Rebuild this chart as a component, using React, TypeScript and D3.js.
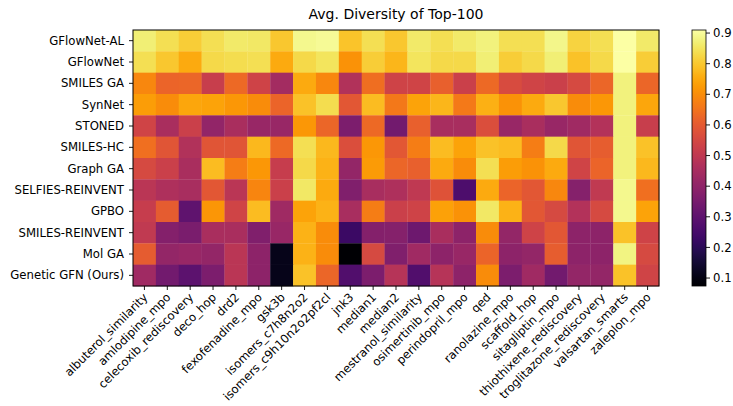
import React from "react";
import * as d3 from "d3";

const methods = [
  "GFlowNet-AL",
  "GFlowNet",
  "SMILES GA",
  "SynNet",
  "STONED",
  "SMILES-HC",
  "Graph GA",
  "SELFIES-REINVENT",
  "GPBO",
  "SMILES-REINVENT",
  "Mol GA",
  "Genetic GFN (Ours)",
];

const tasks = [
  "albuterol_similarity",
  "amlodipine_mpo",
  "celecoxib_rediscovery",
  "deco_hop",
  "drd2",
  "fexofenadine_mpo",
  "gsk3b",
  "isomers_c7h8n2o2",
  "isomers_c9h10n2o2pf2cl",
  "jnk3",
  "median1",
  "median2",
  "mestranol_similarity",
  "osimertinib_mpo",
  "perindopril_mpo",
  "qed",
  "ranolazine_mpo",
  "scaffold_hop",
  "sitagliptin_mpo",
  "thiothixene_rediscovery",
  "troglitazone_rediscovery",
  "valsartan_smarts",
  "zaleplon_mpo",
];

const gflownetAL = [0.87, 0.84, 0.81, 0.84, 0.86, 0.855, 0.8, 0.89, 0.895, 0.795, 0.84, 0.8, 0.86, 0.84, 0.86, 0.875, 0.84, 0.84, 0.885, 0.82, 0.84, 0.91, 0.86];
const gflownet = [0.84, 0.8, 0.75, 0.83, 0.835, 0.84, 0.75, 0.83, 0.85, 0.71, 0.81, 0.77, 0.85, 0.83, 0.83, 0.87, 0.81, 0.83, 0.87, 0.79, 0.83, 0.91, 0.81];
const smilesGA = [0.69, 0.62, 0.625, 0.52, 0.63, 0.535, 0.44, 0.75, 0.69, 0.47, 0.64, 0.535, 0.54, 0.61, 0.525, 0.63, 0.56, 0.54, 0.525, 0.555, 0.625, 0.875, 0.625];
const synNet = [0.73, 0.7, 0.745, 0.74, 0.72, 0.7, 0.62, 0.79, 0.835, 0.59, 0.78, 0.66, 0.74, 0.77, 0.665, 0.76, 0.71, 0.75, 0.8, 0.7, 0.72, 0.875, 0.745];
const stoned = [0.54, 0.455, 0.525, 0.405, 0.455, 0.42, 0.42, 0.72, 0.625, 0.36, 0.63, 0.34, 0.61, 0.45, 0.45, 0.57, 0.42, 0.455, 0.42, 0.435, 0.475, 0.875, 0.52];
const smilesHC = [0.645, 0.585, 0.47, 0.585, 0.585, 0.775, 0.63, 0.84, 0.775, 0.57, 0.72, 0.59, 0.67, 0.78, 0.74, 0.79, 0.78, 0.67, 0.83, 0.585, 0.605, 0.875, 0.79];
const graphGA = [0.555, 0.525, 0.455, 0.78, 0.67, 0.72, 0.515, 0.83, 0.765, 0.41, 0.725, 0.625, 0.61, 0.75, 0.7, 0.84, 0.73, 0.71, 0.75, 0.54, 0.62, 0.875, 0.775];
const selfiesReinvent = [0.49, 0.465, 0.45, 0.59, 0.49, 0.685, 0.525, 0.855, 0.75, 0.37, 0.45, 0.465, 0.5, 0.58, 0.265, 0.75, 0.62, 0.59, 0.69, 0.38, 0.505, 0.89, 0.645];
const gpbo = [0.515, 0.6, 0.3, 0.715, 0.54, 0.78, 0.43, 0.74, 0.765, 0.45, 0.67, 0.525, 0.535, 0.735, 0.71, 0.855, 0.765, 0.59, 0.555, 0.475, 0.555, 0.89, 0.74];
const smilesReinvent = [0.505, 0.375, 0.355, 0.455, 0.455, 0.37, 0.42, 0.765, 0.7, 0.23, 0.375, 0.38, 0.33, 0.455, 0.395, 0.7, 0.41, 0.535, 0.59, 0.395, 0.395, 0.79, 0.535];
const molGA = [0.6, 0.41, 0.42, 0.41, 0.49, 0.395, 0.11, 0.765, 0.7, 0.074, 0.555, 0.37, 0.435, 0.395, 0.42, 0.62, 0.395, 0.41, 0.605, 0.395, 0.395, 0.88, 0.555];
const geneticGFN = [0.435, 0.34, 0.295, 0.36, 0.49, 0.395, 0.11, 0.79, 0.625, 0.27, 0.36, 0.48, 0.27, 0.48, 0.395, 0.7, 0.36, 0.435, 0.34, 0.41, 0.41, 0.79, 0.54];

const rows = [gflownetAL, gflownet, smilesGA, synNet, stoned, smilesHC, graphGA, selfiesReinvent, gpbo, smilesReinvent, molGA, geneticGFN];

const colorbarTicks = [0.1, 0.2, 0.3, 0.4, 0.5, 0.6, 0.7, 0.8, 0.9];

const W = 733;
const H = 406;
const M = { left: 133, right: 659, top: 30, bottom: 286 };
const FONT = "DejaVu Sans, sans-serif";
const FS = 11.7;

export default function App() {
  const cells = rows.flatMap((r, i) => r.map((v, j) => ({ i, j, v })));
  const all = cells.map((c) => c.v);
  const [vmin, vmax] = d3.extent(all) as [number, number];

  const x = d3.scaleBand<string>().domain(tasks).range([M.left, M.right]);
  const y = d3.scaleBand<string>().domain(methods).range([M.top, M.bottom]);
  const color = d3.scaleSequential(d3.interpolateInferno).domain([vmin, vmax]);

  const cb = { x0: 692, x1: 706 };
  const cy = d3.scaleLinear().domain([vmin, vmax]).range([M.bottom, M.top]);
  const stops = d3.range(0, 1.0001, 0.02);

  return (
    <svg width={W} height={H} style={{ position: "absolute", left: 0, top: 0, background: "#fff" }} fontFamily={FONT}>
      <defs>
        <linearGradient id="cbgrad" x1="0" y1="1" x2="0" y2="0">
          {stops.map((t) => (
            <stop key={t} offset={t} stopColor={d3.interpolateInferno(t)} />
          ))}
        </linearGradient>
      </defs>
      <text x={(M.left + M.right) / 2} y={19} textAnchor="middle" fontSize={14} fill="#000">
        Avg. Diversity of Top-100
      </text>
      <g>
        {cells.map((c) => (
          <rect
            key={`${c.i}-${c.j}`}
            x={x(tasks[c.j])!}
            y={y(methods[c.i])!}
            width={x.bandwidth() + 0.3}
            height={y.bandwidth() + 0.3}
            fill={color(c.v)}
          />
        ))}
      </g>
      <rect x={M.left} y={M.top} width={M.right - M.left} height={M.bottom - M.top} fill="none" stroke="#000" strokeWidth={1} />
      {methods.map((m) => {
        const yc = y(m)! + y.bandwidth() / 2;
        return (
          <g key={m}>
            <line x1={M.left - 4} x2={M.left} y1={yc} y2={yc} stroke="#000" strokeWidth={0.9} />
            <text x={M.left - 9} y={yc} dy="0.35em" textAnchor="end" fontSize={FS} fill="#000">
              {m}
            </text>
          </g>
        );
      })}
      {tasks.map((t) => {
        const xc = x(t)! + x.bandwidth() / 2;
        const tx = xc + 4;
        const ty = M.bottom + 12;
        return (
          <g key={t}>
            <line x1={xc} x2={xc} y1={M.bottom} y2={M.bottom + 4} stroke="#000" strokeWidth={0.9} />
            <text transform={`translate(${tx},${ty}) rotate(-45)`} textAnchor="end" fontSize={FS} fill="#000">
              {t}
            </text>
          </g>
        );
      })}
      <rect x={cb.x0} y={M.top} width={cb.x1 - cb.x0} height={M.bottom - M.top} fill="url(#cbgrad)" stroke="#000" strokeWidth={0.8} />
      {colorbarTicks.map((t) => (
        <g key={t}>
          <line x1={cb.x1} x2={cb.x1 + 4} y1={cy(t)} y2={cy(t)} stroke="#000" strokeWidth={0.9} />
          <text x={cb.x1 + 7} y={cy(t)} dy="0.35em" fontSize={FS} fill="#000">
            {t.toFixed(1)}
          </text>
        </g>
      ))}
    </svg>
  );
}
